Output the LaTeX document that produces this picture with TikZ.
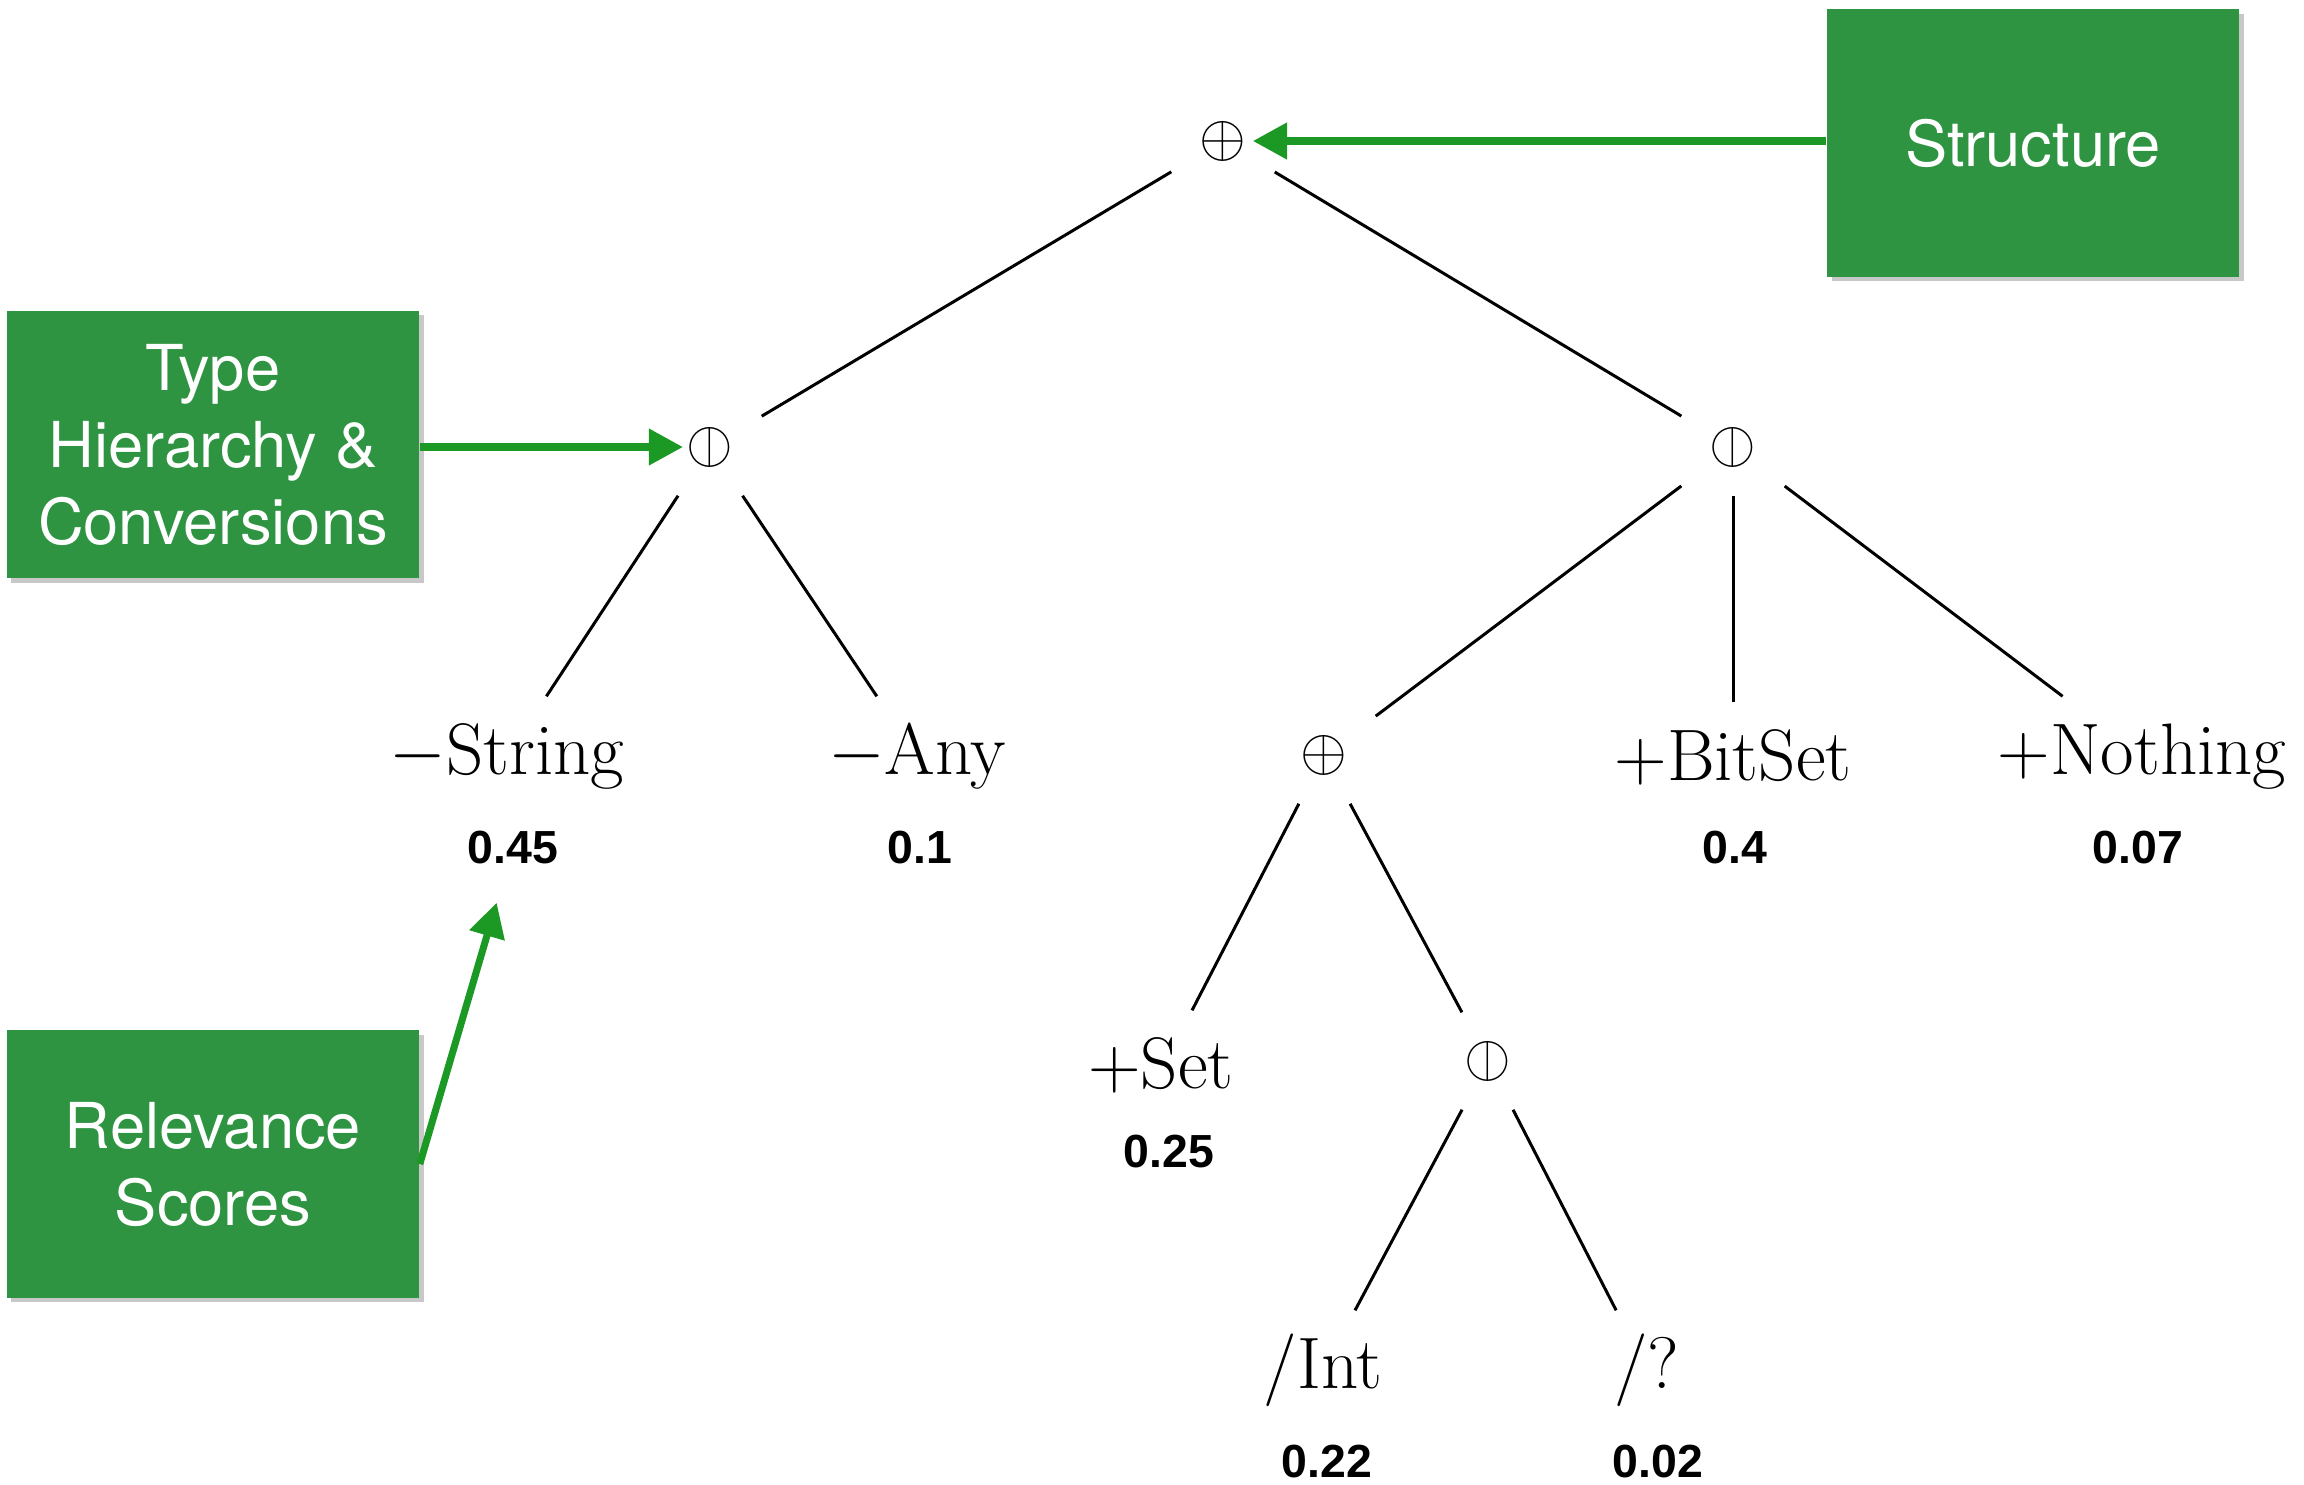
\RequirePackage{fix-cm}
\documentclass[tikz,border=0pt]{standalone}
\usepackage{graphicx}
\usepackage{fontspec}
\usepackage{stmaryrd}
\usetikzlibrary{arrows.meta,shadows}

\newfontfamily\boxfam{TeX Gyre Heros}
\newfontfamily\scorefam{Liberation Sans}

\definecolor{boxgreen}{RGB}{46,148,66}
\definecolor{arrowgreen}{RGB}{28,152,36}

\tikzset{
  sym/.style={rectangle, inner sep=0pt, minimum width=29pt, minimum height=27.3pt,
    font=\fontsize{10}{12}\selectfont},
  lbl/.style={anchor=base, inner xsep=6pt, inner ysep=7.9pt, text height=14pt, text depth=4pt,
    font=\fontsize{20.74}{25}\selectfont},
  score/.style={anchor=base, inner sep=0pt, font=\scorefam\bfseries\fontsize{13.2}{15}\selectfont},
  tag/.style={fill=boxgreen, text=white, align=center, inner sep=0pt,
    minimum width=117.2pt, minimum height=76pt,
    font=\boxfam\fontsize{18}{21.9}\selectfont,
    drop shadow={shadow xshift=1.3pt, shadow yshift=-1.3pt, opacity=0.3, fill=black!70}},
  edge/.style={line width=0.85pt},
  callout/.style={draw=arrowgreen, line width=2pt, -{Triangle[length=9.7pt,width=10pt]}},
}
\newcommand{\opsym}[1]{\scalebox{1.71}{$#1$}}

\begin{document}
\begin{tikzpicture}[x=0.01cm, y=-0.01cm]
  \useasboundingbox (0,0) rectangle (2304,1484);
  \fill[white] (0,0) rectangle (2304,1484);

  % operators of the tree
  \node[sym] (top) at (1223,141)  {\opsym{\oplus}};
  \node[sym] (tl)  at (710,447)   {\opsym{\obar}};
  \node[sym] (tr)  at (1733,447)  {\opsym{\obar}};
  \node[sym] (mid) at (1324,755)  {\opsym{\oplus}};
  \node[sym] (low) at (1488,1061) {\opsym{\obar}};

  % leaves
  \node[lbl] (str)  at (507,774)   {$-$String};
  \node[lbl] (any)  at (917,774)   {$-$Any};
  \node[lbl] (bits) at (1733,780)  {$+$BitSet};
  \node[lbl] (noth) at (2142,774)  {$+$Nothing};
  \node[lbl] (set)  at (1161,1088) {$+$Set};
  \node[lbl] (int)  at (1323,1388) {/Int};
  \node[lbl] (unk)  at (1647,1388) {/?};

  % scores
  \node[score] (s1) at (513,863)   {0.45};
  \node[score] (s2) at (920,863)   {0.1};
  \node[score] (s3) at (1735,863)  {0.4};
  \node[score] (s4) at (2138,863)  {0.07};
  \node[score] (s5) at (1169,1167) {0.25};
  \node[score] (s6) at (1327,1477) {0.22};
  \node[score] (s7) at (1658,1477) {0.02};

  % tree edges
  \draw[edge] (top) -- (tl);
  \draw[edge] (top) -- (tr);
  \draw[edge] (tl) -- (str);
  \draw[edge] (tl) -- (any);
  \draw[edge] (tr) -- (mid);
  \draw[edge] (tr) -- (bits);
  \draw[edge] (tr) -- (noth);
  \draw[edge] (mid) -- (set);
  \draw[edge] (mid) -- (low);
  \draw[edge] (low) -- (int);
  \draw[edge] (low) -- (unk);

  % annotation boxes
  \node[tag] (structure) at (2033,143)  {Structure};
  \node[tag] (types)     at (213,444.5) {Type\\Hierarchy \&\\Conversions};
  \node[tag] (relevance) at (213,1164)  {Relevance\\Scores};

  % annotation arrows
  \draw[callout, shorten >=8.5pt] (structure.west |- top.center) -- (top.center);
  \draw[callout, shorten >=7.7pt] (types.east |- tl.center) -- (tl.center);
  \draw[callout, shorten >=16.5pt] (relevance.east) -- (s1.center);
\end{tikzpicture}
\end{document}
